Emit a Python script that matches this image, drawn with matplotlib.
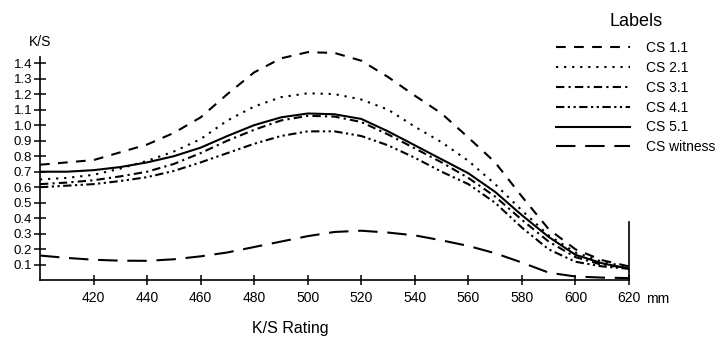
import numpy as np
import matplotlib
matplotlib.use("Agg")
import matplotlib.pyplot as plt

plt.rcParams['font.family'] = ['Liberation Sans', 'DejaVu Sans']
plt.rcParams['lines.scale_dashes'] = False

# wavelength (nm) and K/S readings per sample
wl = [400, 410, 420, 430, 440, 450, 460, 470, 480, 490, 500, 510,
      520, 530, 540, 550, 560, 570, 580, 590, 600, 610, 620]
cs11 = [0.745, 0.76, 0.775, 0.825, 0.875, 0.95, 1.05, 1.2, 1.34, 1.43, 1.47, 1.465,
        1.415, 1.31, 1.19, 1.075, 0.92, 0.76, 0.54, 0.33, 0.2, 0.13, 0.09]
cs21 = [0.65, 0.66, 0.68, 0.72, 0.77, 0.83, 0.91, 1.03, 1.12, 1.18, 1.205, 1.2,
        1.165, 1.1, 0.99, 0.89, 0.77, 0.62, 0.45, 0.29, 0.18, 0.12, 0.085]
cs31 = [0.62, 0.63, 0.645, 0.67, 0.7, 0.75, 0.82, 0.9, 0.97, 1.03, 1.06, 1.055,
        1.02, 0.94, 0.85, 0.76, 0.66, 0.54, 0.39, 0.25, 0.15, 0.1, 0.08]
cs41 = [0.60, 0.61, 0.62, 0.64, 0.665, 0.705, 0.76, 0.82, 0.88, 0.93, 0.96, 0.96,
        0.93, 0.87, 0.79, 0.7, 0.62, 0.5, 0.34, 0.2, 0.12, 0.09, 0.075]
cs51 = [0.70, 0.70, 0.71, 0.73, 0.76, 0.8, 0.855, 0.93, 1.0, 1.05, 1.075, 1.07,
        1.04, 0.96, 0.87, 0.78, 0.69, 0.57, 0.42, 0.28, 0.165, 0.11, 0.075]
witness = [0.16, 0.145, 0.133, 0.127, 0.126, 0.136, 0.155, 0.18, 0.215, 0.25, 0.285, 0.312,
           0.32, 0.308, 0.29, 0.258, 0.222, 0.175, 0.115, 0.05, 0.025, 0.018, 0.015]

labels = ['CS 1.1', 'CS 2.1', 'CS 3.1', 'CS 4.1', 'CS 5.1', 'CS witness']
styles = [(0, (7, 6)), (0, (1.6, 4.2)), (0, (6, 3, 1.6, 3)),
          (0, (6, 2.5, 1.6, 2.5, 1.6, 2.5)), '-', (0, (14, 7))]
series = [cs11, cs21, cs31, cs41, cs51, witness]

yticks = [0.1, 0.2, 0.3, 0.4, 0.5, 0.6, 0.7, 0.8, 0.9, 1.0, 1.1, 1.2, 1.3, 1.4]
xticks = [420, 440, 460, 480, 500, 520, 540, 560, 580, 600, 620]

fig = plt.figure(figsize=(7.28, 3.38), dpi=100)
ax = fig.add_axes([40 / 728, 1 - 280.4 / 338, 589 / 728, 232.9 / 338])

for ys, ls, lab in zip(series, styles, labels):
    ax.plot(wl, ys, color='black', linestyle=ls, linewidth=1.5, label=lab)

ax.set_xlim(400, 620)
ax.set_ylim(0, 1.5)
ax.spines['top'].set_visible(False)
ax.spines['left'].set_bounds(0, 1.44)
ax.spines['right'].set_bounds(0, 0.378)
for s in ['left', 'right', 'bottom']:
    ax.spines[s].set_linewidth(1.2)

ax.set_yticks(yticks)
ax.set_yticklabels(['%.1f' % v for v in yticks])
ax.set_xticks(xticks)
ax.tick_params(axis='y', direction='inout', length=9, width=1.1, labelsize=9.5, pad=1)
ax.tick_params(axis='x', direction='inout', length=7, width=1.1, labelsize=10, pad=4)

# unit written after the last tick label
ax.annotate('mm', xy=(620, 0), xycoords='data', xytext=(12, -13.3),
            textcoords='offset points', ha='left', va='center', fontsize=10)

fig.text(40 / 728, 1 - 42 / 338, 'K/S', ha='center', va='center', fontsize=10)
fig.text(290 / 728, 1 - 328 / 338, 'K/S Rating', ha='center', va='center', fontsize=11.5)

leg = fig.legend(loc='upper left', bbox_to_anchor=(556 / 728, 1 - 13 / 338),
                 frameon=False, fontsize=10, title='Labels', title_fontsize=13,
                 handlelength=5.3, handletextpad=1.2, labelspacing=0.42,
                 borderpad=0, borderaxespad=0)
leg._legend_box.sep = 8

fig.savefig('out.png', dpi=100)
